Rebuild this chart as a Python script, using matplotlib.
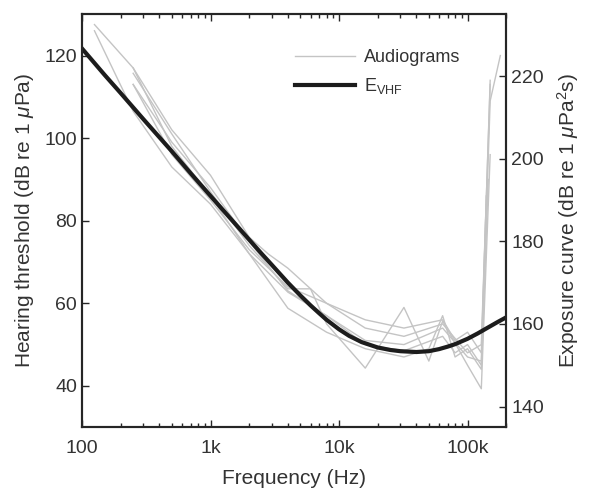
import numpy as np
import matplotlib
matplotlib.use("Agg")
import matplotlib.pyplot as plt
from matplotlib.ticker import FixedLocator, LogLocator, NullFormatter

plt.rcParams['font.family'] = ['Liberation Sans', 'DejaVu Sans']
plt.rcParams['mathtext.fontset'] = 'custom'
plt.rcParams['mathtext.rm'] = 'Liberation Sans'
plt.rcParams['mathtext.it'] = 'Liberation Sans:italic'

# audiograms (Hz, dB re 1 uPa)
a1_f = [125, 250, 500, 1000, 2000, 2800, 4000, 8000, 16000, 32000, 64000, 80000, 100000, 128000, 150000]
a1_v = [127.5, 117, 102, 91, 76, 72, 68.5, 60, 56, 54, 56, 51, 53, 48, 114]
a2_f = [125, 250, 500, 1000, 2000, 4000, 8000, 16000, 32000, 64000, 100000, 128000, 140000]
a2_v = [126, 106.5, 93, 84, 72, 62.7, 57, 51, 50, 54, 47, 46, 86]
a3_f = [250, 500, 1000, 2000, 4000, 8000, 16000, 32000, 64000, 80000, 100000, 128000, 150000, 180000]
a3_v = [113, 99, 88, 75, 63, 57, 50, 48.5, 52, 48, 50, 45, 109, 120]
a4_f = [250, 500, 1000, 2000, 4000, 6000, 8000, 16000, 32000, 50000, 64000, 100000, 128000, 150000]
a4_v = [115.7, 101, 87, 74, 63.5, 63.5, 55, 44.3, 59, 46, 55.7, 45, 39.3, 96]
a5_f = [250, 500, 1000, 2000, 4000, 8000, 16000, 32000, 50000, 64000, 80000, 100000, 128000, 145000]
a5_v = [117, 98, 86, 72, 58.8, 53, 49, 47, 49, 57, 47, 49, 44, 90]
a6_f = [250, 500, 1000, 2000, 4000, 8000, 16000, 32000, 64000, 100000, 128000, 150000]
a6_v = [113, 96, 85, 73, 64, 60, 54, 52, 55, 48, 50, 113]
audiograms = [(a1_f, a1_v), (a2_f, a2_v), (a3_f, a3_v), (a4_f, a4_v), (a5_f, a5_v), (a6_f, a6_v)]

# exposure curve E_VHF (Hz, dB re 1 uPa^2 s)
e_f = [100, 150, 200, 300, 500, 700, 1000, 1500, 2000, 2500, 3000, 4000, 5000, 6000,
       7000, 8000, 10000, 12000, 15000, 20000, 25000, 30000, 40000, 50000, 60000,
       70000, 80000, 100000, 120000, 140000, 170000, 200000]
e_v = [226.7, 220.3, 215.9, 209.6, 201.8, 196.5, 191.0, 184.8, 180.4, 177.0, 174.3,
       170.0, 166.9, 164.5, 162.6, 161.0, 158.7, 157.1, 155.6, 154.3, 153.7, 153.4,
       153.2, 153.4, 153.9, 154.5, 155.1, 156.4, 157.7, 158.9, 160.4, 161.6]

x_ticks = [100, 1000, 10000, 100000]
x_ticklabels = ['100', '1k', '10k', '100k']

fig = plt.figure(figsize=(5.9, 4.91), dpi=100)
ax = fig.add_axes([0.139, 0.130, 0.719, 0.841])
ax2 = ax.twinx()

txt = '#333333'
for f, v in audiograms:
    h_aud, = ax.plot(f, v, color='#c4c4c4', lw=1.0, label='Audiograms')
h_e, = ax2.plot(e_f, e_v, color='#1c1c1c', lw=3, label='E$_{\\mathrm{VHF}}$')

ax.set_xscale('log')
ax.set_xlim(100, 200000)
ax.set_ylim(30, 130)
ax2.set_ylim(135, 235)
ax.set_yticks([40, 60, 80, 100, 120])
ax2.set_yticks([140, 160, 180, 200, 220])
ax.xaxis.set_major_locator(FixedLocator(x_ticks))
ax.set_xticklabels(x_ticklabels)
ax.xaxis.set_minor_locator(LogLocator(base=10, subs=np.arange(2, 10)))
ax.xaxis.set_minor_formatter(NullFormatter())

for a in (ax, ax2):
    for s in a.spines.values():
        s.set_linewidth(1.5)
        s.set_color('#262626')
    a.tick_params(which='both', direction='in', colors='#262626', labelcolor=txt, labelsize=14)
    a.tick_params(which='major', length=5, width=1)
    a.tick_params(which='minor', length=3, width=1)
ax.tick_params(axis='x', which='both', top=True, pad=9)

ax.set_xlabel('Frequency (Hz)', fontsize=15, color=txt, labelpad=9)
ax.set_ylabel('Hearing threshold (dB re 1 $\\mathit{\\mu}$Pa)', fontsize=15, color=txt, labelpad=6)
ax2.set_ylabel('Exposure curve (dB re 1 $\\mathit{\\mu}$Pa$^2$s)', fontsize=15, color=txt, labelpad=8)

leg = ax2.legend([h_aud, h_e], ['Audiograms', 'E$_{\\mathrm{VHF}}$'], loc='upper right',
                 bbox_to_anchor=(0.93, 0.955), frameon=False, fontsize=13, handlelength=3.3,
                 labelspacing=0.55, handletextpad=0.5)
for t in leg.get_texts():
    t.set_color(txt)

fig.savefig('out.png', dpi=100)
